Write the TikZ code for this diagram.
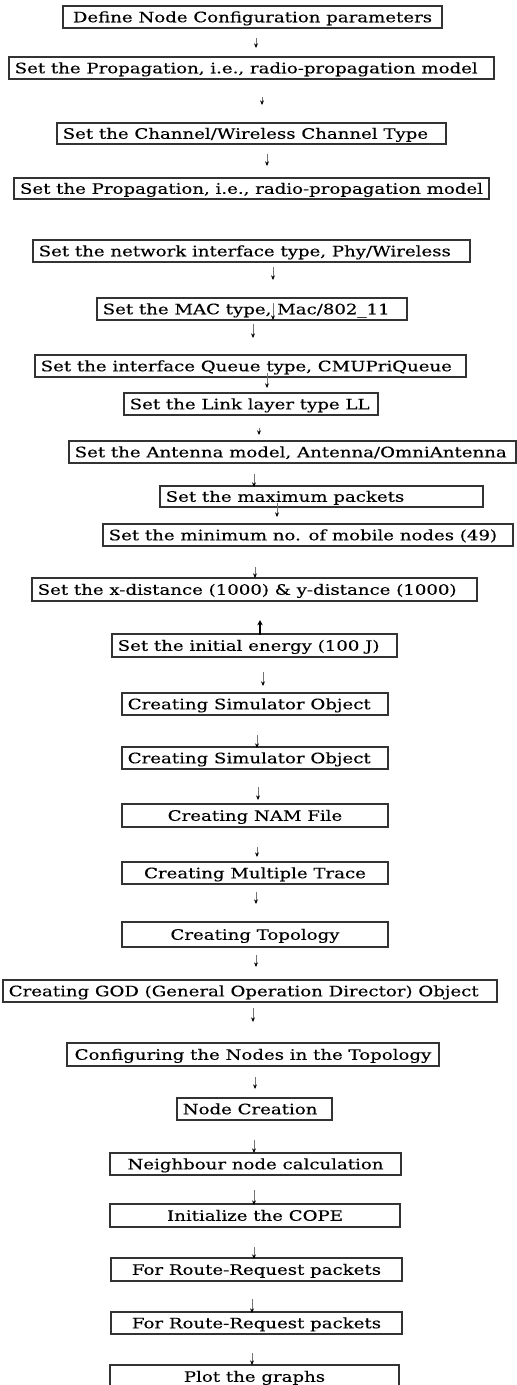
\documentclass[tikz,border=0pt]{standalone}
\usepackage{fontspec}
\setmainfont[FakeStretch=1.26,FakeBold=0.3]{DejaVu Serif}
\usetikzlibrary{arrows.meta}
\tikzset{
 boxst/.style={draw=black!80, line width=0.8pt, inner sep=0pt},
 txt/.style={font=\fontsize{10.8}{12}\selectfont, inner sep=0pt, text height=7.9pt, text depth=0pt},
 arr/.style={draw=black!55, line width=0.75pt, -{Stealth[length=3.5pt,width=3pt,black]}},
 uparr/.style={draw=black, line width=1.1pt, -{Stealth[length=4pt,width=4pt]}}
}
\newcommand\flowbox[7]{%
 \pgfmathsetmacro\cx{(#2+#4)/2}%
 \pgfmathsetmacro\cy{(#3+#5)/2}%
 \pgfmathsetmacro\ww{(#4-#2)*0.75}%
 \pgfmathsetmacro\hh{(#5-#3)*0.75}%
 \node[boxst, minimum width=\ww pt, minimum height=\hh pt] (#1) at (\cx,\cy) {};%
 \ifx l#6\node[txt, anchor=west] (#1t) at ([xshift=4.5pt]#1.west) {#7};%
 \else\node[txt] (#1t) at (#1.center) {#7};\fi
}
\newcommand\flowarr[4]{% name x ytop ybottom
 \draw[arr] (#2,#3) coordinate (#1s) -- (#2,#4) coordinate (#1e);
}
\begin{document}
\begin{tikzpicture}[x=0.75pt,y=-0.75pt]
\clip (0,0) rectangle (517,1385);
\flowbox{b1}{63}{6}{442}{28}{c}{Define Node Configuration parameters}
\flowbox{b2}{9}{57}{494}{79}{l}{Set the Propagation, i.e., radio-propagation model}
\flowbox{b3}{57}{123}{446}{144}{l}{Set the Channel/Wireless Channel Type}
\flowbox{b4}{14}{178}{489}{199}{c}{Set the Propagation, i.e., radio-propagation model}
\flowbox{b5}{33}{240}{470}{262}{l}{Set the network interface type, Phy/Wireless}
\flowbox{b6}{97}{298}{407}{320}{l}{Set the MAC type, Mac/802\_11}
\flowbox{b7}{35}{355}{466}{377}{l}{Set the interface Queue type, CMUPriQueue}
\flowbox{b8}{124}{393}{378}{415}{l}{Set the Link layer type LL}
\flowbox{b9}{69}{441}{516}{463}{l}{Set the Antenna model, Antenna/OmniAntenna}
\flowbox{b10}{160}{486}{483}{507}{l}{Set the maximum packets}
\flowbox{b11}{103}{524}{513}{546}{l}{Set the minimum no. of mobile nodes (49)}
\flowbox{b12}{32}{578}{477}{601}{l}{Set the x-distance (1000) \& y-distance (1000)}
\flowbox{b13}{112}{634}{397}{657}{l}{Set the initial energy (100 J)}
\flowbox{b14}{122}{693}{388}{715}{l}{Creating Simulator Object}
\flowbox{b15}{122}{747}{388}{769}{l}{Creating Simulator Object}
\flowbox{b16}{122}{804}{388}{827}{c}{Creating NAM File}
\flowbox{b17}{122}{862}{388}{884}{c}{Creating Multiple Trace}
\flowbox{b18}{122}{922}{388}{947}{c}{Creating Topology}
\flowbox{b19}{3}{980}{497}{1002}{l}{Creating GOD (General Operation Director) Object}
\flowbox{b20}{67}{1043}{439}{1066}{c}{Configuring the Nodes in the Topology}
\flowbox{b21}{177}{1098}{332}{1120}{l}{Node Creation}
\flowbox{b22}{110}{1153}{401}{1175}{c}{Neighbour node calculation}
\flowbox{b23}{110}{1204}{400}{1227}{c}{Initialize the COPE}
\flowbox{b24}{111}{1258}{402}{1281}{c}{For Route-Request packets}
\flowbox{b25}{111}{1312}{402}{1334}{c}{For Route-Request packets}
\flowbox{b26}{110}{1365}{399}{1388}{c}{Plot the graphs}
\flowarr{a1}{256}{38}{48}
\flowarr{a2}{262}{97}{105}
\flowarr{a3}{267}{154}{166}
\flowarr{a5}{273}{267}{280}
\flowarr{a6}{273}{303}{320}
\flowarr{a6b}{253}{324}{338}
\flowarr{a7}{267}{373}{388}
\flowarr{a8}{259}{428}{435}
\flowarr{a9}{254}{474}{487}
\flowarr{a10}{277}{503}{517}
\flowarr{a11}{255}{567}{578}
\draw[uparr] (260,635) coordinate (a12s) -- (260,620) coordinate (a12e);
\flowarr{a13}{263}{672}{686}
\flowarr{a14}{257}{735}{748}
\flowarr{a15}{258}{787}{800}
\flowarr{a16}{257}{847}{857}
\flowarr{a17}{256}{892}{904}
\flowarr{a18}{256}{955}{967}
\flowarr{a19}{253}{1008}{1022}
\flowarr{a20}{255}{1077}{1089}
\flowarr{a21}{254}{1140}{1153}
\flowarr{a22}{254}{1190}{1205}
\flowarr{a23}{254}{1247}{1259}
\flowarr{a24}{252}{1299}{1313}
\flowarr{a25}{252}{1353}{1365}
\end{tikzpicture}
\end{document}
